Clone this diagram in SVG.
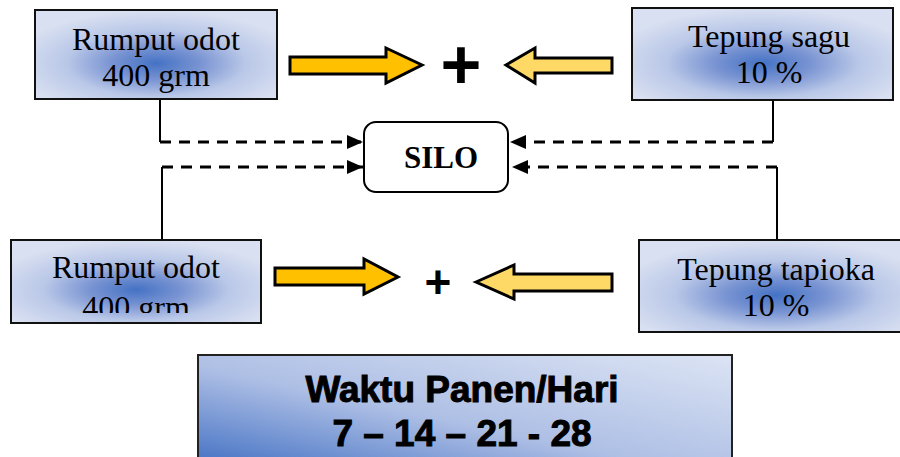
<svg xmlns="http://www.w3.org/2000/svg" width="900" height="457" viewBox="0 0 900 457">
  <defs>
    <radialGradient id="softBlue" cx="0.5" cy="0.6" r="0.6">
      <stop offset="0" stop-color="#4472C4"/>
      <stop offset="0.3" stop-color="#7893D2"/>
      <stop offset="0.62" stop-color="#BAC8E8"/>
      <stop offset="1" stop-color="#D9E0F1"/>
    </radialGradient>
    <linearGradient id="panenFill" x1="0" y1="1" x2="1" y2="0">
      <stop offset="0" stop-color="#3F6EC2"/>
      <stop offset="0.45" stop-color="#AEBFE5"/>
      <stop offset="1" stop-color="#DCE4F4"/>
    </linearGradient>
    <marker id="head" viewBox="0 0 16 14" refX="16" refY="7" markerWidth="16" markerHeight="14" orient="auto" markerUnits="userSpaceOnUse">
      <path d="M0,0 L16,7 L0,14 z" fill="#000"/>
    </marker>
    <clipPath id="clipBL">
      <rect x="11" y="240" width="250" height="73"/>
    </clipPath>
  </defs>
  <style>
    .box { fill: url(#softBlue); stroke: #111; stroke-width: 2; }
    .lbl { font-family: "Liberation Serif", "Times New Roman", serif; font-size: 32px; fill: #000; text-anchor: middle; }
    .silo { font-family: "Liberation Serif", "Times New Roman", serif; font-size: 31px; font-weight: bold; text-anchor: middle; }
    .plus { font-family: "Liberation Sans", Arial, sans-serif; font-weight: bold; text-anchor: middle; fill: #000; }
    .panen { font-family: "Liberation Sans", Arial, sans-serif; font-weight: bold; font-size: 37px; text-anchor: middle; fill: #000; stroke: #000; stroke-width: 1; }
    .solid { fill: none; stroke: #000; stroke-width: 2; }
    .dash { fill: none; stroke: #000; stroke-width: 3; stroke-dasharray: 11 8; marker-end: url(#head); }
    .arrowR { fill: #FFC000; stroke: #000; stroke-width: 3; stroke-linejoin: miter; }
    .arrowL { fill: #FFD966; stroke: #000; stroke-width: 3; stroke-linejoin: miter; }
  </style>

  <!-- connectors: solid drops from each box, dashed runs into the silo -->
  <g id="connectors">
    <path class="solid" d="M160,99 V142"/>
    <path class="dash" d="M160,142 H363"/>
    <path class="solid" d="M162,240 V167"/>
    <path class="dash" d="M162,167 H363"/>
    <path class="solid" d="M773,100 V142"/>
    <path class="dash" d="M773,142 H510"/>
    <path class="solid" d="M777,240 V167"/>
    <path class="dash" d="M777,167 H512"/>
  </g>

  <g id="rumput-top">
    <rect class="box" x="35" y="10" width="242" height="89"/>
    <text class="lbl" x="156" y="50">Rumput odot</text>
    <text class="lbl" x="156" y="86">400 grm</text>
  </g>

  <g id="sagu">
    <rect class="box" x="632" y="8" width="261" height="92"/>
    <text class="lbl" x="769" y="47">Tepung sagu</text>
    <text class="lbl" x="769" y="83">10 %</text>
  </g>

  <g id="mix-top">
    <polygon class="arrowR" points="290,57 386,57 386,48 422,65 386,83 386,74 290,74"/>
    <text class="plus" x="461" y="89" font-size="70">+</text>
    <polygon class="arrowL" points="506,65 535,48 535,58 612,58 612,73 535,73 535,83"/>
  </g>

  <g id="silo">
    <rect x="364" y="122" width="144" height="70" rx="12" ry="12" fill="#fff" stroke="#000" stroke-width="2"/>
    <text class="silo" x="441" y="168">SILO</text>
  </g>

  <g id="rumput-bottom">
    <rect class="box" x="11" y="240" width="250" height="83"/>
    <g clip-path="url(#clipBL)">
      <text class="lbl" x="136" y="278">Rumput odot</text>
      <text class="lbl" x="136" y="318">400 grm</text>
    </g>
  </g>

  <g id="mix-bottom">
    <polygon class="arrowR" points="275,268 364,268 364,259 398,277 364,294 364,285 275,285"/>
    <text class="plus" x="438" y="298" font-size="46">+</text>
    <polygon class="arrowL" points="476,282 514,265 514,274 612,274 612,291 514,291 514,299"/>
  </g>

  <g id="tapioka">
    <rect class="box" x="639" y="240" width="274" height="92"/>
    <text class="lbl" x="776" y="280">Tepung tapioka</text>
    <text class="lbl" x="776" y="316">10 %</text>
  </g>

  <g id="panen">
    <rect x="198" y="355" width="534" height="115" fill="url(#panenFill)" stroke="#222" stroke-width="2"/>
    <text class="panen" x="462" y="402">Waktu Panen/Hari</text>
    <text class="panen" x="462" y="446">7 – 14 – 21 - 28</text>
  </g>
</svg>
